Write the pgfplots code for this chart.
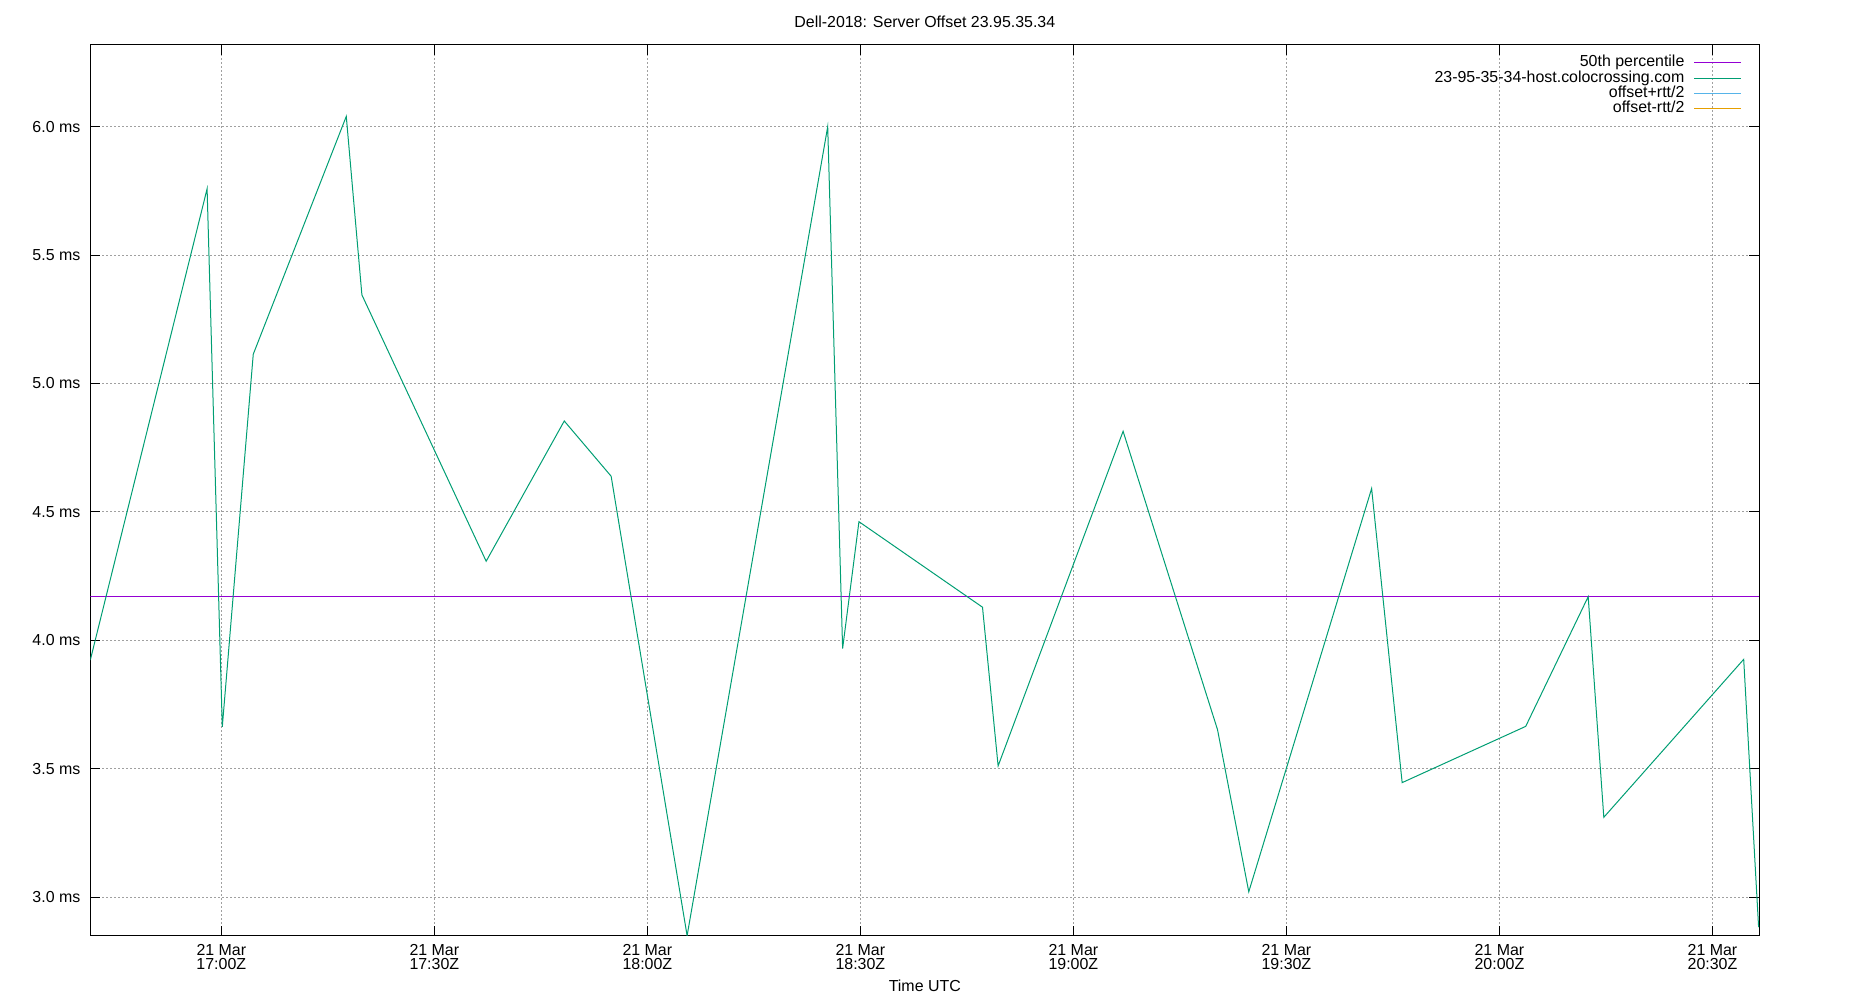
\documentclass[border=0pt]{standalone}
\usepackage{fontspec}
\setmainfont{Liberation Sans}
\usepackage{pgfplots}
\pgfplotsset{compat=1.18}

\definecolor{medianc}{HTML}{9400D3}
\definecolor{hostc}{HTML}{009E73}
\definecolor{plusc}{HTML}{56B4E9}
\definecolor{minusc}{HTML}{E69F00}
\definecolor{gridc}{HTML}{A0A0A0}

% time in minutes after 21 Mar 17:00Z, offset in ms
\pgfplotstableread{
t      off
-18.45 3.923
-2.0   5.758
0.14   3.663
4.5    5.114
17.6   6.040
19.8   5.345
37.3   4.308
48.3   4.854
54.9   4.639
65.6   2.850
85.4   6.000
87.5   3.968
89.8   4.462
107.2  4.129
109.4  3.511
127.0  4.814
140.3  3.652
144.7  3.021
162.0  4.591
166.3  3.446
183.7  3.665
192.5  4.170
194.7  3.311
214.4  3.926
216.5  2.883
}\hosttable

\begin{document}
\begin{tikzpicture}
\useasboundingbox (-45.15bp,-32.15bp) rectangle (879.85bp,467.85bp);
\begin{axis}[
  at={(0,0)}, anchor=south west,
  scale only axis,
  width=834.5bp, height=445.35bp,
  xmin=-18.45, xmax=216.6,
  ymin=2.85, ymax=6.318,
  xtick={0,30,60,90,120,150,180,210},
  xticklabels={{21 Mar\\17:00Z},{21 Mar\\17:30Z},{21 Mar\\18:00Z},{21 Mar\\18:30Z},
               {21 Mar\\19:00Z},{21 Mar\\19:30Z},{21 Mar\\20:00Z},{21 Mar\\20:30Z}},
  ytick={3.0,3.5,4.0,4.5,5.0,5.5,6.0},
  yticklabel={\pgfmathprintnumber[fixed,fixed zerofill,precision=1]{\tick} ms},
  /pgf/number format/assume math mode=true,
  tick align=inside,
  major tick length=5bp,
  every tick/.style={black, line width=0.5bp},
  axis line style={line width=0.5bp},
  grid=major,
  major grid style={gridc, line width=0.5bp, dash pattern=on 1bp off 1bp},
  every tick label/.append style={font=\fontsize{8}{7}\selectfont},
  xticklabel style={align=center, inner sep=0pt, anchor=center, yshift=-10.65bp},
  yticklabel style={anchor=east, inner sep=0pt, xshift=-4.8bp},
  title={Dell-2018: Server Offset 23.95.35.34},
  title style={font=\fontsize{8}{8}\selectfont, at={(0.5,1)}, anchor=center, yshift=5.6bp, inner sep=0pt},
  xlabel={Time UTC},
  xlabel style={font=\fontsize{8}{8}\selectfont, at={(0.5,0)}, anchor=center, yshift=-25.15bp, inner sep=0pt},
  legend plot pos=right,
  legend cell align=right,
  legend image code/.code={\draw[#1] (0bp,0bp) -- (23.35bp,0bp);},
  legend style={at={(1,1)}, anchor=north east, xshift=-8.8bp, yshift=-5bp,
    draw=none, fill=none, inner sep=0pt, row sep=0pt, column sep=4.6bp,
    font=\fontsize{8}{8}\selectfont,
    nodes={inner sep=0pt, text height=5.8bp, text depth=1.75bp}},
]
\addplot[medianc, line width=0.5bp] coordinates {(-18.45,4.171) (216.6,4.171)};
\addlegendentry{50th percentile}
\addplot[hostc, line width=0.5bp] table[x=t, y=off] {\hosttable};
\addlegendentry{23-95-35-34-host.colocrossing.com}
\addlegendimage{plusc, line width=0.5bp}
\addlegendentry{offset+rtt/2}
\addlegendimage{minusc, line width=0.5bp}
\addlegendentry{offset-rtt/2}
\end{axis}
\end{tikzpicture}
\end{document}
